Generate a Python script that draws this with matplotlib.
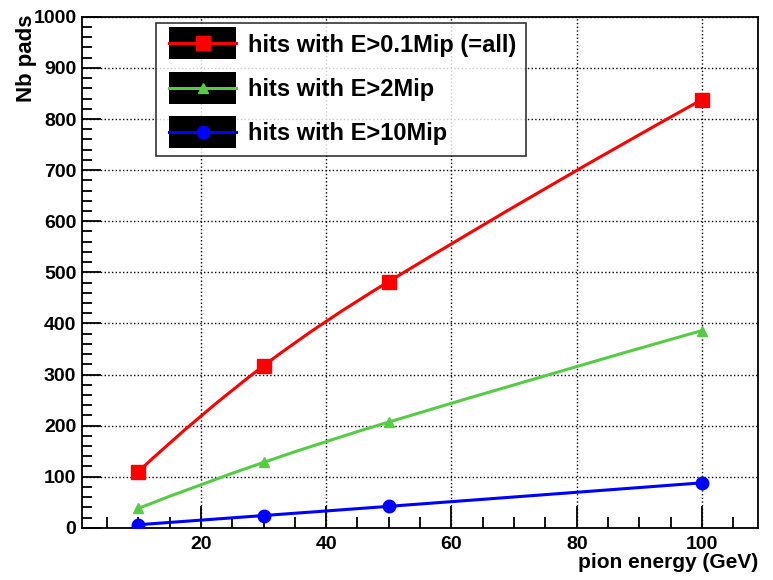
import numpy as np
import matplotlib
matplotlib.use("Agg")
import matplotlib.pyplot as plt
from matplotlib.path import Path
from matplotlib.patches import PathPatch, Rectangle
from matplotlib.legend_handler import HandlerLine2D
from matplotlib.lines import Line2D
from matplotlib.ticker import MultipleLocator

energy = [10, 30, 50, 100]
hits_all = [110, 317, 482, 838]
hits_2mip = [38, 128, 207, 386]
hits_10mip = [6, 24, 42, 88]

labels = ["hits with E>0.1Mip (=all)", "hits with E>2Mip", "hits with E>10Mip"]
colors = ["#ff0000", "#55cc44", "#0000ff"]
markers = ["s", "^", "o"]
msizes = [10, 7, 9]

plt.rcParams['font.family'] = ['Liberation Sans', 'DejaVu Sans']
plt.rcParams['font.weight'] = 'bold'


def smooth_path(x, y):
    # cubic hermite curve through the points, drawn as bezier segments
    x = np.asarray(x, float)
    y = np.asarray(y, float)
    n = len(x)
    m = np.zeros(n)
    for i in range(1, n - 1):
        m[i] = (y[i + 1] - y[i - 1]) / (x[i + 1] - x[i - 1])
    m[0] = 2 * (y[1] - y[0]) / (x[1] - x[0]) - m[1]
    m[-1] = 2 * (y[-1] - y[-2]) / (x[-1] - x[-2]) - m[-2]
    verts = [(x[0], y[0])]
    codes = [Path.MOVETO]
    for i in range(n - 1):
        h = x[i + 1] - x[i]
        verts += [(x[i] + h / 3, y[i] + m[i] * h / 3),
                  (x[i + 1] - h / 3, y[i + 1] - m[i + 1] * h / 3),
                  (x[i + 1], y[i + 1])]
        codes += [Path.CURVE4] * 3
    return Path(verts, codes)


class BlackBoxHandler(HandlerLine2D):
    def create_artists(self, legend, orig_handle, xdescent, ydescent,
                       width, height, fontsize, trans):
        bh = 1.35 * fontsize
        box = Rectangle((-xdescent + 2, -ydescent + height / 2 - bh / 2), width, bh,
                        facecolor='black', edgecolor='none', transform=trans)
        arts = super().create_artists(legend, orig_handle, xdescent - 2, ydescent,
                                      width, height, fontsize, trans)
        return [box] + list(arts)


fig = plt.figure(figsize=(7.73, 5.8), dpi=100)
ax = fig.add_axes([0.106, 0.09, 0.875, 0.881])

series = [hits_all, hits_2mip, hits_10mip]
handles = []
for vals, c, mk, ms, lab in zip(series, colors, markers, msizes, labels):
    ax.add_patch(PathPatch(smooth_path(energy, vals), facecolor='none',
                           edgecolor=c, lw=2.2, zorder=3))
    ax.plot(energy, vals, ls='none', marker=mk, color=c, ms=ms, zorder=4)
    handles.append(Line2D([], [], color=c, lw=2.2, marker=mk, ms=ms))

ax.set_xlim(1, 109)
ax.set_ylim(0, 1000)
ax.xaxis.set_major_locator(MultipleLocator(20))
ax.xaxis.set_minor_locator(MultipleLocator(5))
ax.yaxis.set_major_locator(MultipleLocator(100))
ax.yaxis.set_minor_locator(MultipleLocator(20))
ax.set_xticks([20, 40, 60, 80, 100])
ax.tick_params(which='major', direction='in', length=16, width=1.3, labelsize=14, pad=6)
ax.tick_params(which='minor', direction='in', length=8, width=1.3)
ax.tick_params(axis='y', which='major', length=14, pad=4)
ax.tick_params(axis='y', which='minor', length=7)
for lbl in ax.get_xticklabels() + ax.get_yticklabels():
    lbl.set_fontweight('bold')
ax.grid(which='major', ls=':', color='black', lw=1.0)
for sp in ax.spines.values():
    sp.set_linewidth(1.3)

ax.set_xlabel("pion energy (GeV)", fontsize=15, fontweight='bold')
ax.xaxis.set_label_coords(1.0, -0.068)
ax.xaxis.label.set_horizontalalignment('right')
ax.xaxis.label.set_verticalalignment('center')
ax.set_ylabel("Nb pads", fontsize=16, fontweight='bold')
ax.yaxis.set_label_coords(-0.082, 1.004)
ax.yaxis.label.set_horizontalalignment('right')
ax.yaxis.label.set_verticalalignment('center')

leg = ax.legend(handles, labels, handler_map={Line2D: BlackBoxHandler()},
                loc='upper left', bbox_to_anchor=(0.109, 0.988),
                prop={'weight': 'bold', 'size': 17},
                frameon=True, fancybox=False, edgecolor='black',
                handlelength=2.84, handleheight=0.7, labelspacing=0.9,
                handletextpad=0.6, borderpad=0.45, borderaxespad=0)
leg.get_frame().set_linewidth(1.2)
leg.set_zorder(5)

plt.savefig("out.png", dpi=100)
